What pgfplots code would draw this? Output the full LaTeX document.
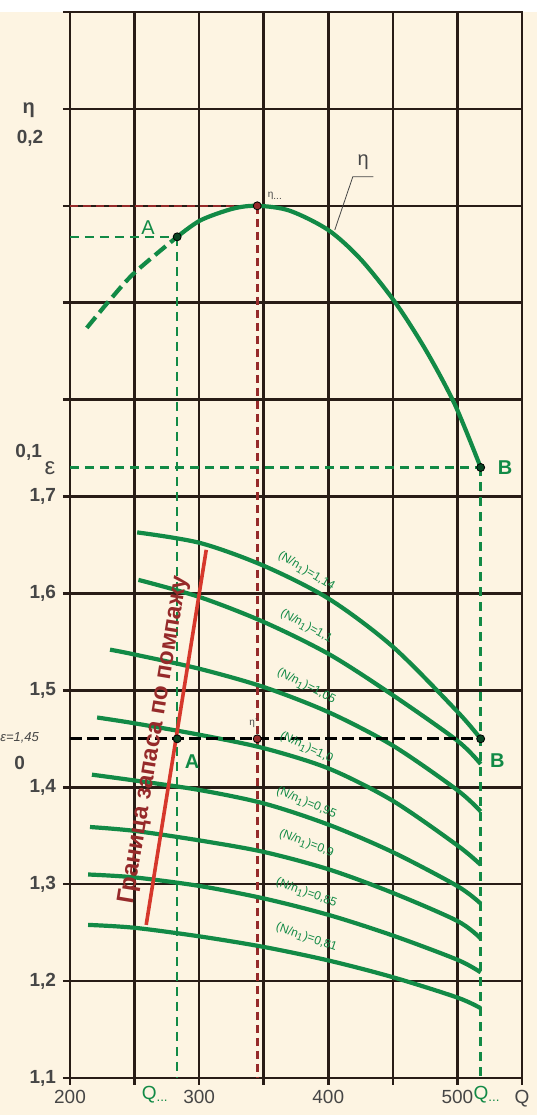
\documentclass[border=0pt]{standalone}
\usepackage{pgfplots}
\pgfplotsset{compat=1.18}
\usepackage{fontspec}
\setmainfont{Liberation Sans}
\definecolor{bg}{RGB}{253,244,226}
\definecolor{gridc}{RGB}{40,28,22}
\definecolor{cgreen}{RGB}{18,138,70}
\definecolor{cred}{RGB}{214,56,44}
\definecolor{cdred}{RGB}{150,42,42}
\definecolor{tgray}{RGB}{70,70,70}
\begin{document}
\begin{tikzpicture}
\useasboundingbox (-35pt,-18.5pt) rectangle (233.5pt,539pt);
\fill[bg] (-35pt,-18.5pt) rectangle (233.5pt,533pt);
\begin{axis}[
  at={(0pt,0pt)}, anchor=south west,
  scale only axis, width=226pt, height=533pt,
  xmin=200, xmax=550, ymin=1.1, ymax=2.2,
  xtick={200,250,300,350,400,450,500,550},
  xticklabels={200,,300,,400,,500,Q},
  ytick={1.1,1.2,1.3,1.4,1.5,1.6,1.7,1.8,1.9,2.0,2.1,2.2},
  yticklabels={{1,1},{1,2},{1,3},{1,4},{1,5},{1,6},{1,7},,,,,},
  grid=major,
  major grid style={gridc, line width=1.3pt},
  axis line style={gridc, line width=1.3pt},
  tick style={gridc, line width=1.3pt},
  tick align=outside, major tick length=3.5pt,
  xtick pos=left, ytick pos=left,
  axis background/.style={fill=bg},
  clip=false,
  xticklabel style={font=\fontsize{9.5}{10}\selectfont, text=tgray, yshift=1pt},
  yticklabel style={font=\bfseries\fontsize{9.5}{10}\selectfont, text=tgray},
]
% guide dashed lines (upper part)
\addplot[cdred, line width=1.3pt, dash pattern=on 4pt off 2.5pt] coordinates {(200,2.0) (345,2.0)};
\addplot[cdred, line width=1.3pt, dash pattern=on 4pt off 2.5pt] coordinates {(345,2.0) (345,1.1)};
\addplot[cgreen, line width=1.3pt, dash pattern=on 4.5pt off 3pt] coordinates {(200,1.968) (283,1.968)};
\addplot[cgreen, line width=1.3pt, dash pattern=on 4.5pt off 3pt] coordinates {(283,1.968) (283,1.1)};
\addplot[cgreen, line width=1.3pt, dash pattern=on 4.5pt off 3pt] coordinates {(200,1.73) (518,1.73)};
\addplot[cgreen, line width=1.3pt, dash pattern=on 4.5pt off 3pt] coordinates {(518,1.73) (518,1.1)};
% eta curve
\addplot[cgreen, line width=2.1pt, dash pattern=on 7pt off 3pt, smooth] coordinates {(213,1.874) (231,1.903) (250,1.931) (283,1.968)};
\addplot[cgreen, line width=2.1pt, smooth] coordinates {(283,1.968) (301,1.985) (326,1.997) (345,2.0) (370,1.995) (400,1.975) (425,1.945) (452,1.900) (476,1.850) (498,1.795) (518,1.73)};
% family of curves
\addplot[cgreen, line width=2.1pt, smooth] coordinates {(252,1.663) (301,1.652) (351,1.628) (401,1.594) (450,1.545) (500,1.478) (518,1.45)};
\addplot[cgreen, line width=2.1pt, smooth] coordinates {(253,1.614) (301,1.596) (351,1.570) (401,1.537) (450,1.495) (500,1.448) (518,1.424)};
\addplot[cgreen, line width=2.1pt, smooth] coordinates {(231,1.542) (250,1.537) (301,1.522) (351,1.503) (401,1.477) (450,1.443) (500,1.397) (518,1.375)};
\addplot[cgreen, line width=2.1pt, smooth] coordinates {(221,1.472) (250,1.466) (301,1.454) (351,1.440) (401,1.419) (450,1.386) (500,1.340) (518,1.320)};
\addplot[cgreen, line width=2.1pt, smooth] coordinates {(217,1.413) (250,1.407) (301,1.397) (351,1.383) (401,1.361) (450,1.333) (500,1.298) (518,1.280)};
\addplot[cgreen, line width=2.1pt, smooth] coordinates {(215.5,1.359) (250,1.355) (301,1.345) (351,1.333) (401,1.315) (450,1.291) (500,1.262) (518,1.244)};
\addplot[cgreen, line width=2.1pt, smooth] coordinates {(214,1.310) (250,1.307) (301,1.298) (351,1.285) (401,1.268) (450,1.247) (500,1.222) (518,1.209)};
\addplot[cgreen, line width=2.1pt, smooth] coordinates {(214,1.258) (250,1.255) (301,1.246) (351,1.235) (401,1.221) (450,1.204) (500,1.183) (518,1.172)};
% surge boundary
\addplot[cred, line width=1.8pt] coordinates {(259,1.258) (305.5,1.645)};
% black dashed epsilon = 1.45
\addplot[black, line width=1.5pt, dash pattern=on 6pt off 2.5pt] coordinates {(200,1.45) (518,1.45)};
% eta leader
\addplot[tgray, line width=0.4pt] coordinates {(405,1.975) (419,2.03) (435,2.03)};
% markers
\addplot[only marks, mark=*, mark size=2pt, mark options={draw=black, fill=cgreen!50!black}] coordinates {(283,1.968) (518,1.73) (283,1.45) (518,1.45)};
\addplot[only marks, mark=*, mark size=2pt, mark options={draw=black, fill=cdred}] coordinates {(345,2.0) (345,1.45)};
% texts
\node[text=tgray, font=\bfseries\fontsize{10}{11}\selectfont] at (axis cs:168,2.099) {η};
\node[text=tgray, font=\bfseries\fontsize{9.5}{10}\selectfont] at (axis cs:169,2.07) {0,2};
\node[text=tgray, font=\bfseries\fontsize{9.5}{10}\selectfont] at (axis cs:168,1.746) {0,1};
\node[text=tgray, font=\fontsize{12}{12}\selectfont] at (axis cs:184.5,1.729) {ε};
\node[text=tgray, font=\itshape\fontsize{6.5}{7}\selectfont] at (axis cs:161,1.451) {ε=1,45};
\node[text=tgray, font=\bfseries\fontsize{9.5}{10}\selectfont] at (axis cs:161,1.425) {0};
\node[text=cgreen, font=\fontsize{10}{11}\selectfont] at (axis cs:260.5,1.978) {A};
\node[text=cgreen, font=\bfseries\fontsize{10}{11}\selectfont] at (axis cs:537,1.73) {B};
\node[text=cgreen, font=\bfseries\fontsize{10}{11}\selectfont] at (axis cs:294.5,1.426) {A};
\node[text=cgreen, font=\bfseries\fontsize{10}{11}\selectfont] at (axis cs:531,1.428) {B};
\node[text=cgreen, font=\fontsize{9.5}{10}\selectfont] at (axis cs:266,1.083) {Q\textsubscript{...}};
\node[text=cgreen, font=\fontsize{9.5}{10}\selectfont] at (axis cs:523,1.083) {Q\textsubscript{...}};
\node[text=tgray, font=\fontsize{5}{6}\selectfont] at (axis cs:359,2.01) {η\textsubscript{...}};
\node[text=tgray, font=\fontsize{5}{6}\selectfont] at (axis cs:342,1.466) {η'};
\node[text=tgray, font=\fontsize{10}{11}\selectfont] at (axis cs:427,2.045) {η};
\node[text=cdred, font=\bfseries\fontsize{12}{13}\selectfont, rotate=80.6] at (axis cs:265,1.449) {Граница запаса по помпажу};
\node[text=cgreen, font=\fontsize{6}{7}\selectfont, rotate=-31] at (axis cs:383,1.623) {(N/n\textsubscript{1})=1,14};
\node[text=cgreen, font=\fontsize{6}{7}\selectfont, rotate=-29] at (axis cs:383,1.566) {(N/n\textsubscript{1})=1,1};
\node[text=cgreen, font=\fontsize{6}{7}\selectfont, rotate=-27] at (axis cs:383,1.504) {(N/n\textsubscript{1})=1,05};
\node[text=cgreen, font=\fontsize{6}{7}\selectfont, rotate=-25] at (axis cs:383,1.441) {(N/n\textsubscript{1})=1,0};
\node[text=cgreen, font=\fontsize{6}{7}\selectfont, rotate=-23] at (axis cs:383,1.384) {(N/n\textsubscript{1})=0,95};
\node[text=cgreen, font=\fontsize{6}{7}\selectfont, rotate=-21] at (axis cs:383,1.342) {(N/n\textsubscript{1})=0,9};
\node[text=cgreen, font=\fontsize{6}{7}\selectfont, rotate=-20] at (axis cs:383,1.291) {(N/n\textsubscript{1})=0,85};
\node[text=cgreen, font=\fontsize{6}{7}\selectfont, rotate=-19] at (axis cs:383,1.245) {(N/n\textsubscript{1})=0,81};
\end{axis}
\end{tikzpicture}
\end{document}
